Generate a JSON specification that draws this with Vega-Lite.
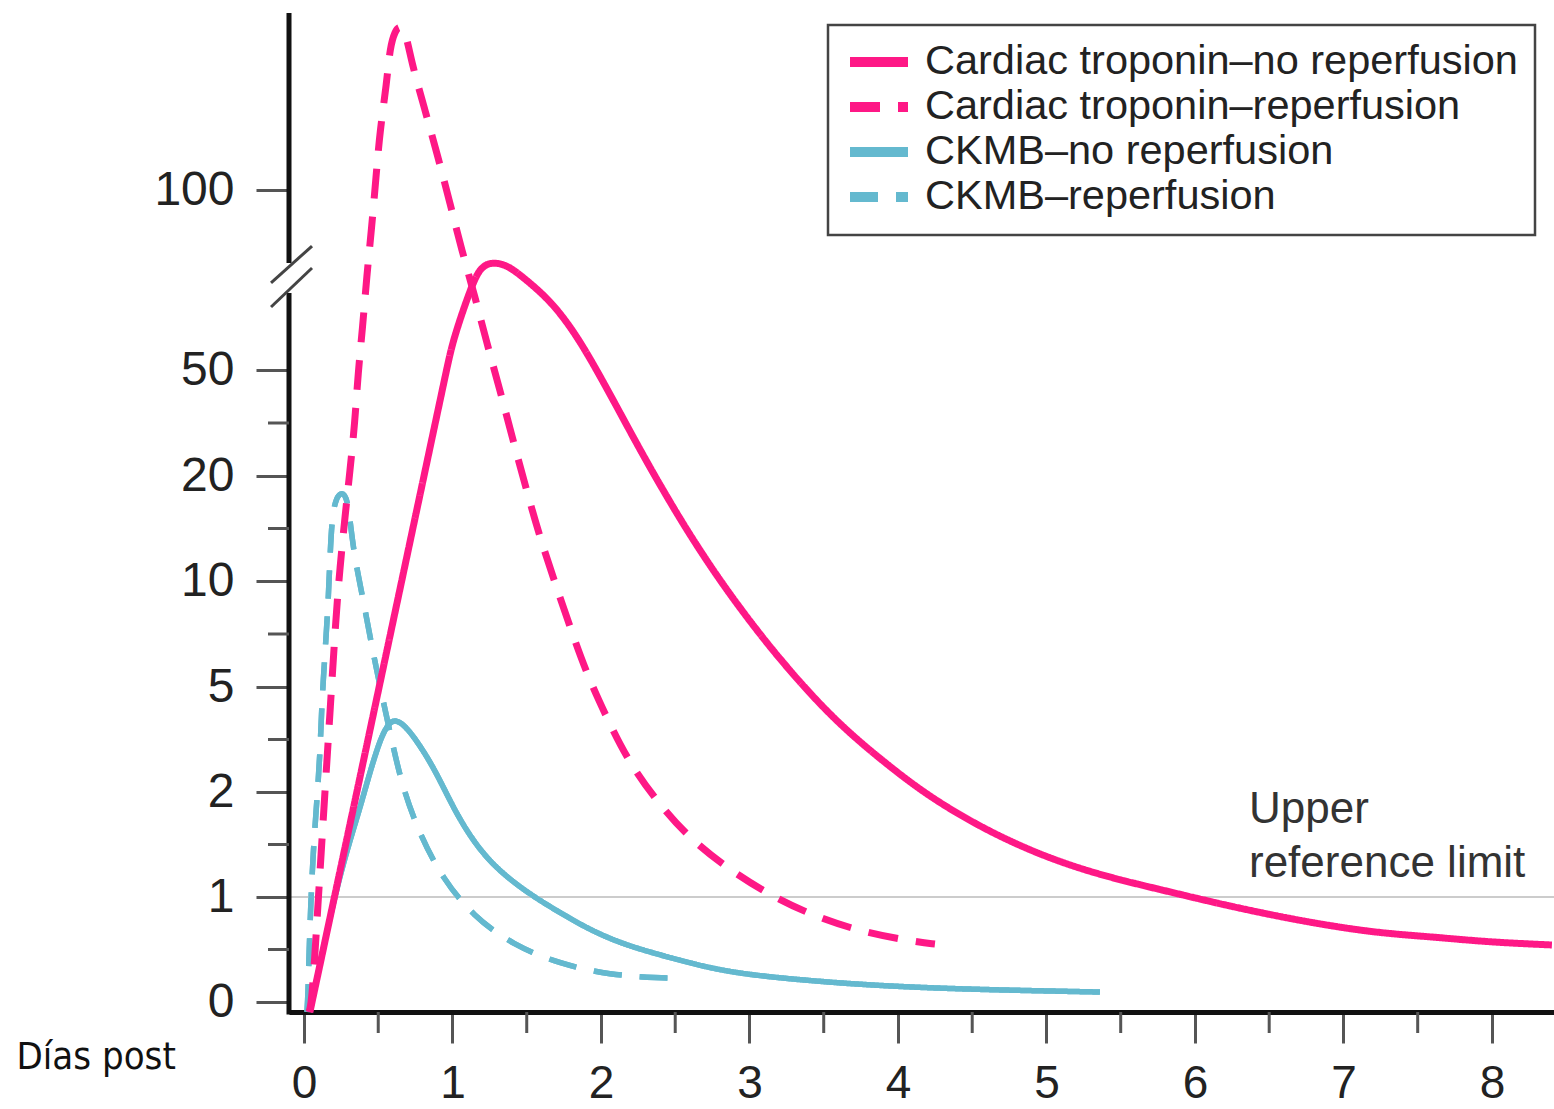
{
  "$schema": "https://vega.github.io/schema/vega-lite/v6.json",
  "width": 1265,
  "height": 999,
  "autosize": {"type": "none"},
  "padding": {"left": 289, "top": 13, "right": 0, "bottom": 97},
  "background": "white",
  "config": {"view": {"stroke": null}},
  "datasets": {
    "curves": [
      {"series": "Cardiac troponin–no reperfusion", "day": 0.04, "value": -0.095},
      {"series": "Cardiac troponin–no reperfusion", "day": 0.054, "value": 0},
      {"series": "Cardiac troponin–no reperfusion", "day": 0.205, "value": 1},
      {"series": "Cardiac troponin–no reperfusion", "day": 0.356, "value": 2},
      {"series": "Cardiac troponin–no reperfusion", "day": 0.506, "value": 5},
      {"series": "Cardiac troponin–no reperfusion", "day": 0.658, "value": 10},
      {"series": "Cardiac troponin–no reperfusion", "day": 0.808, "value": 20},
      {"series": "Cardiac troponin–no reperfusion", "day": 0.96, "value": 50},
      {"series": "Cardiac troponin–no reperfusion", "day": 1.003, "value": 58.3},
      {"series": "Cardiac troponin–no reperfusion", "day": 1.118, "value": 72.2},
      {"series": "Cardiac troponin–no reperfusion", "day": 1.185, "value": 78.6},
      {"series": "Cardiac troponin–no reperfusion", "day": 1.266, "value": 80},
      {"series": "Cardiac troponin–no reperfusion", "day": 1.367, "value": 79.2},
      {"series": "Cardiac troponin–no reperfusion", "day": 1.475, "value": 75.8},
      {"series": "Cardiac troponin–no reperfusion", "day": 1.657, "value": 69.4},
      {"series": "Cardiac troponin–no reperfusion", "day": 1.811, "value": 61.1},
      {"series": "Cardiac troponin–no reperfusion", "day": 1.946, "value": 51.9},
      {"series": "Cardiac troponin–no reperfusion", "day": 2.108, "value": 39.5},
      {"series": "Cardiac troponin–no reperfusion", "day": 2.263, "value": 27.4},
      {"series": "Cardiac troponin–no reperfusion", "day": 2.444, "value": 18.0},
      {"series": "Cardiac troponin–no reperfusion", "day": 2.62, "value": 13.9},
      {"series": "Cardiac troponin–no reperfusion", "day": 2.822, "value": 9.81},
      {"series": "Cardiac troponin–no reperfusion", "day": 3.037, "value": 7.78},
      {"series": "Cardiac troponin–no reperfusion", "day": 3.253, "value": 5.9},
      {"series": "Cardiac troponin–no reperfusion", "day": 3.582, "value": 4.0},
      {"series": "Cardiac troponin–no reperfusion", "day": 3.946, "value": 2.714},
      {"series": "Cardiac troponin–no reperfusion", "day": 4.242, "value": 1.924},
      {"series": "Cardiac troponin–no reperfusion", "day": 4.64, "value": 1.6},
      {"series": "Cardiac troponin–no reperfusion", "day": 5.044, "value": 1.352},
      {"series": "Cardiac troponin–no reperfusion", "day": 5.414, "value": 1.19},
      {"series": "Cardiac troponin–no reperfusion", "day": 5.778, "value": 1.067},
      {"series": "Cardiac troponin–no reperfusion", "day": 6.141, "value": 0.943},
      {"series": "Cardiac troponin–no reperfusion", "day": 6.512, "value": 0.829},
      {"series": "Cardiac troponin–no reperfusion", "day": 6.875, "value": 0.733},
      {"series": "Cardiac troponin–no reperfusion", "day": 7.239, "value": 0.657},
      {"series": "Cardiac troponin–no reperfusion", "day": 7.609, "value": 0.619},
      {"series": "Cardiac troponin–no reperfusion", "day": 7.973, "value": 0.571},
      {"series": "Cardiac troponin–no reperfusion", "day": 8.404, "value": 0.543},

      {"series": "Cardiac troponin–reperfusion", "day": 0.034, "value": -0.095},
      {"series": "Cardiac troponin–reperfusion", "day": 0.054, "value": 0},
      {"series": "Cardiac troponin–reperfusion", "day": 0.094, "value": 0.924},
      {"series": "Cardiac troponin–reperfusion", "day": 0.135, "value": 1.867},
      {"series": "Cardiac troponin–reperfusion", "day": 0.175, "value": 4.257},
      {"series": "Cardiac troponin–reperfusion", "day": 0.215, "value": 8.3},
      {"series": "Cardiac troponin–reperfusion", "day": 0.242, "value": 11.24},
      {"series": "Cardiac troponin–reperfusion", "day": 0.276, "value": 16.1},
      {"series": "Cardiac troponin–reperfusion", "day": 0.31, "value": 21.7},
      {"series": "Cardiac troponin–reperfusion", "day": 0.343, "value": 35.3},
      {"series": "Cardiac troponin–reperfusion", "day": 0.364, "value": 49.15},
      {"series": "Cardiac troponin–reperfusion", "day": 0.395, "value": 61.9},
      {"series": "Cardiac troponin–reperfusion", "day": 0.422, "value": 75.8},
      {"series": "Cardiac troponin–reperfusion", "day": 0.456, "value": 89.7},
      {"series": "Cardiac troponin–reperfusion", "day": 0.485, "value": 103.6},
      {"series": "Cardiac troponin–reperfusion", "day": 0.512, "value": 116.7},
      {"series": "Cardiac troponin–reperfusion", "day": 0.557, "value": 129.7},
      {"series": "Cardiac troponin–reperfusion", "day": 0.579, "value": 139.7},
      {"series": "Cardiac troponin–reperfusion", "day": 0.613, "value": 144.2},
      {"series": "Cardiac troponin–reperfusion", "day": 0.646, "value": 145.8},
      {"series": "Cardiac troponin–reperfusion", "day": 0.687, "value": 143.6},
      {"series": "Cardiac troponin–reperfusion", "day": 0.725, "value": 135.3},
      {"series": "Cardiac troponin–reperfusion", "day": 0.815, "value": 122.2},
      {"series": "Cardiac troponin–reperfusion", "day": 0.902, "value": 109.2},
      {"series": "Cardiac troponin–reperfusion", "day": 0.983, "value": 96.4},
      {"series": "Cardiac troponin–reperfusion", "day": 1.062, "value": 83.3},
      {"series": "Cardiac troponin–reperfusion", "day": 1.152, "value": 70.3},
      {"series": "Cardiac troponin–reperfusion", "day": 1.231, "value": 57.5},
      {"series": "Cardiac troponin–reperfusion", "day": 1.32, "value": 44.3},
      {"series": "Cardiac troponin–reperfusion", "day": 1.407, "value": 30.2},
      {"series": "Cardiac troponin–reperfusion", "day": 1.495, "value": 18.86},
      {"series": "Cardiac troponin–reperfusion", "day": 1.576, "value": 14.76},
      {"series": "Cardiac troponin–reperfusion", "day": 1.677, "value": 10.38},
      {"series": "Cardiac troponin–reperfusion", "day": 1.785, "value": 7.97},
      {"series": "Cardiac troponin–reperfusion", "day": 1.899, "value": 5.71},
      {"series": "Cardiac troponin–reperfusion", "day": 2.027, "value": 4.23},
      {"series": "Cardiac troponin–reperfusion", "day": 2.175, "value": 2.94},
      {"series": "Cardiac troponin–reperfusion", "day": 2.364, "value": 1.933},
      {"series": "Cardiac troponin–reperfusion", "day": 2.586, "value": 1.571},
      {"series": "Cardiac troponin–reperfusion", "day": 2.848, "value": 1.276},
      {"series": "Cardiac troponin–reperfusion", "day": 3.145, "value": 1.01},
      {"series": "Cardiac troponin–reperfusion", "day": 3.448, "value": 0.81},
      {"series": "Cardiac troponin–reperfusion", "day": 3.785, "value": 0.657},
      {"series": "Cardiac troponin–reperfusion", "day": 4.128, "value": 0.571},
      {"series": "Cardiac troponin–reperfusion", "day": 4.249, "value": 0.552},

      {"series": "CKMB–no reperfusion", "day": 0.04, "value": -0.095},
      {"series": "CKMB–no reperfusion", "day": 0.202, "value": 1},
      {"series": "CKMB–no reperfusion", "day": 0.31, "value": 1.543},
      {"series": "CKMB–no reperfusion", "day": 0.377, "value": 1.848},
      {"series": "CKMB–no reperfusion", "day": 0.444, "value": 2.571},
      {"series": "CKMB–no reperfusion", "day": 0.512, "value": 3.486},
      {"series": "CKMB–no reperfusion", "day": 0.559, "value": 3.886},
      {"series": "CKMB–no reperfusion", "day": 0.599, "value": 4.06},
      {"series": "CKMB–no reperfusion", "day": 0.653, "value": 4.0},
      {"series": "CKMB–no reperfusion", "day": 0.734, "value": 3.629},
      {"series": "CKMB–no reperfusion", "day": 0.869, "value": 2.743},
      {"series": "CKMB–no reperfusion", "day": 0.983, "value": 1.914},
      {"series": "CKMB–no reperfusion", "day": 1.098, "value": 1.619},
      {"series": "CKMB–no reperfusion", "day": 1.253, "value": 1.324},
      {"series": "CKMB–no reperfusion", "day": 1.475, "value": 1.067},
      {"series": "CKMB–no reperfusion", "day": 1.704, "value": 0.867},
      {"series": "CKMB–no reperfusion", "day": 1.926, "value": 0.686},
      {"series": "CKMB–no reperfusion", "day": 2.148, "value": 0.552},
      {"series": "CKMB–no reperfusion", "day": 2.377, "value": 0.457},
      {"series": "CKMB–no reperfusion", "day": 2.599, "value": 0.371},
      {"series": "CKMB–no reperfusion", "day": 2.889, "value": 0.276},
      {"series": "CKMB–no reperfusion", "day": 3.34, "value": 0.21},
      {"series": "CKMB–no reperfusion", "day": 3.791, "value": 0.162},
      {"series": "CKMB–no reperfusion", "day": 4.236, "value": 0.133},
      {"series": "CKMB–no reperfusion", "day": 4.687, "value": 0.114},
      {"series": "CKMB–no reperfusion", "day": 5.36, "value": 0.095},

      {"series": "CKMB–reperfusion", "day": 0.02, "value": -0.095},
      {"series": "CKMB–reperfusion", "day": 0.027, "value": 0.076},
      {"series": "CKMB–reperfusion", "day": 0.034, "value": 0.457},
      {"series": "CKMB–reperfusion", "day": 0.045, "value": 0.914},
      {"series": "CKMB–reperfusion", "day": 0.061, "value": 1.41},
      {"series": "CKMB–reperfusion", "day": 0.086, "value": 1.905},
      {"series": "CKMB–reperfusion", "day": 0.108, "value": 3.086},
      {"series": "CKMB–reperfusion", "day": 0.119, "value": 4.457},
      {"series": "CKMB–reperfusion", "day": 0.141, "value": 6.557},
      {"series": "CKMB–reperfusion", "day": 0.162, "value": 8.821},
      {"series": "CKMB–reperfusion", "day": 0.175, "value": 12.29},
      {"series": "CKMB–reperfusion", "day": 0.189, "value": 16.1},
      {"series": "CKMB–reperfusion", "day": 0.215, "value": 17.9},
      {"series": "CKMB–reperfusion", "day": 0.256, "value": 18.5},
      {"series": "CKMB–reperfusion", "day": 0.296, "value": 17.9},
      {"series": "CKMB–reperfusion", "day": 0.33, "value": 12.95},
      {"series": "CKMB–reperfusion", "day": 0.397, "value": 9.198},
      {"series": "CKMB–reperfusion", "day": 0.456, "value": 6.934},
      {"series": "CKMB–reperfusion", "day": 0.523, "value": 4.8},
      {"series": "CKMB–reperfusion", "day": 0.599, "value": 3.314},
      {"series": "CKMB–reperfusion", "day": 0.667, "value": 2.086},
      {"series": "CKMB–reperfusion", "day": 0.781, "value": 1.59},
      {"series": "CKMB–reperfusion", "day": 0.936, "value": 1.171},
      {"series": "CKMB–reperfusion", "day": 1.138, "value": 0.819},
      {"series": "CKMB–reperfusion", "day": 1.407, "value": 0.543},
      {"series": "CKMB–reperfusion", "day": 1.724, "value": 0.362},
      {"series": "CKMB–reperfusion", "day": 2.061, "value": 0.257},
      {"series": "CKMB–reperfusion", "day": 2.397, "value": 0.229},
      {"series": "CKMB–reperfusion", "day": 2.512, "value": 0.229}
    ],
    "yminor": [{"v": 0.5}, {"v": 1.5}, {"v": 3.5}, {"v": 7.5}, {"v": 15}, {"v": 35}],
    "xminor": [{"d": 0.5}, {"d": 1.5}, {"d": 2.5}, {"d": 3.5}, {"d": 4.5}, {"d": 5.5}, {"d": 6.5}, {"d": 7.5}]
  },
  "layer": [
    {
      "data": {"name": "curves"},
      "transform": [{"filter": {"field": "series", "oneOf": ["CKMB–no reperfusion", "CKMB–reperfusion"]}}],
      "mark": {"type": "line", "interpolate": "basis", "strokeWidth": 5.5},
      "encoding": {
        "x": {
          "field": "day", "type": "quantitative",
          "scale": {"domain": [-0.101, 8.418], "nice": false, "zero": false},
          "axis": {
            "values": [0, 1, 2, 3, 4, 5, 6, 7, 8],
            "format": "d",
            "grid": false,
            "domain": true, "domainColor": "#111111", "domainWidth": 5,
            "tickSize": 31, "tickWidth": 3, "tickColor": "#555555",
            "labelFont": "Liberation Sans", "labelFontSize": 46, "labelColor": "#222222",
            "labelPadding": 54, "labelBaseline": "alphabetic", "labelFlush": false, "labelOverlap": false,
            "title": "Días post",
            "titleFont": "DejaVu Sans Condensed, Roboto, sans-serif", "titleFontSize": 38, "titleFontWeight": "normal", "titleColor": "#111111",
            "titleX": -273, "titleY": 56, "titleAlign": "left", "titleBaseline": "alphabetic", "titleAngle": 0
          }
        },
        "y": {
          "field": "value", "type": "quantitative",
          "scale": {
            "type": "linear",
            "domain": [-0.0952, 0, 1, 2, 5, 10, 20, 50, 100, 149.2],
            "range": [999, 989, 884, 779, 674, 568, 463, 357, 177, 0],
            "nice": false, "zero": false
          },
          "axis": {
            "values": [0, 1, 2, 5, 10, 20, 50, 100],
            "format": "d",
            "grid": false, "domain": false,
            "tickSize": 33, "tickWidth": 3, "tickColor": "#555555",
            "labelFont": "Liberation Sans", "labelFontSize": 48, "labelColor": "#222222",
            "labelPadding": 22, "labelFlush": false, "labelOverlap": false,
            "title": null
          }
        },
        "color": {
          "field": "series", "type": "nominal",
          "scale": {
            "domain": ["Cardiac troponin–no reperfusion", "Cardiac troponin–reperfusion", "CKMB–no reperfusion", "CKMB–reperfusion"],
            "range": ["#fe1886", "#fe1886", "#64b9cf", "#64b9cf"]
          },
          "legend": {
            "orient": "none", "legendX": 539, "legendY": 12, "title": null, "direction": "vertical",
            "symbolType": "stroke", "symbolSize": 3364, "symbolStrokeWidth": 10, "clipHeight": 40,
            "rowPadding": 3, "padding": 17,
            "labelFont": "Liberation Sans", "labelFontSize": 41.5, "labelColor": "#222222", "labelLimit": 1200, "labelOffset": 12,
            "strokeColor": "#444444", "fillColor": "#ffffff",
            "encode": {"legend": {"update": {"strokeWidth": {"value": 2.5}}}}
          }
        },
        "strokeDash": {
          "field": "series", "type": "nominal",
          "scale": {
            "domain": ["Cardiac troponin–no reperfusion", "Cardiac troponin–reperfusion", "CKMB–no reperfusion", "CKMB–reperfusion"],
            "range": [[1, 0], [30, 18], [1, 0], [28, 18]]
          },
          "legend": {
            "orient": "none", "legendX": 539, "legendY": 12, "title": null, "direction": "vertical",
            "symbolType": "stroke", "symbolSize": 3364, "symbolStrokeWidth": 10, "clipHeight": 40,
            "rowPadding": 3, "padding": 17,
            "labelFont": "Liberation Sans", "labelFontSize": 41.5, "labelColor": "#222222", "labelLimit": 1200, "labelOffset": 12,
            "strokeColor": "#444444", "fillColor": "#ffffff",
            "encode": {"legend": {"update": {"strokeWidth": {"value": 2.5}}}}
          }
        }
      }
    },
    {
      "data": {"values": [{}]},
      "mark": {"type": "rule", "color": "#cccccc", "strokeWidth": 2},
      "encoding": {"y": {"datum": 1, "type": "quantitative", "title": null}}
    },
    {
      "data": {"name": "curves"},
      "transform": [{"filter": {"field": "series", "oneOf": ["CKMB–no reperfusion", "CKMB–reperfusion"]}}],
      "mark": {"type": "line", "interpolate": "basis", "strokeWidth": 5.5},
      "encoding": {
        "x": {"field": "day", "type": "quantitative", "title": "Días post"},
        "y": {"field": "value", "type": "quantitative", "title": null},
        "color": {"field": "series", "type": "nominal"},
        "strokeDash": {"field": "series", "type": "nominal"}
      }
    },
    {
      "data": {"name": "curves"},
      "transform": [{"filter": {"field": "series", "oneOf": ["Cardiac troponin–no reperfusion", "Cardiac troponin–reperfusion"]}}],
      "mark": {"type": "line", "interpolate": "basis", "strokeWidth": 7},
      "encoding": {
        "x": {"field": "day", "type": "quantitative", "title": "Días post"},
        "y": {"field": "value", "type": "quantitative", "title": null},
        "color": {"field": "series", "type": "nominal"},
        "strokeDash": {"field": "series", "type": "nominal"}
      }
    },
    {
      "data": {"values": [{}]},
      "mark": {"type": "rule", "color": "#111111", "strokeWidth": 5},
      "encoding": {
        "x": {"datum": -0.101, "type": "quantitative", "title": "Días post"},
        "y": {"datum": -0.119, "type": "quantitative", "title": null},
        "y2": {"datum": 71.4}
      }
    },
    {
      "data": {"values": [{}]},
      "mark": {"type": "rule", "color": "#111111", "strokeWidth": 5},
      "encoding": {
        "x": {"datum": -0.101, "type": "quantitative", "title": "Días post"},
        "y": {"datum": 79.7, "type": "quantitative", "title": null},
        "y2": {"datum": 149.2}
      }
    },
    {
      "data": {"values": [{}]},
      "mark": {"type": "rule", "color": "#444444", "strokeWidth": 3},
      "encoding": {
        "x": {"datum": -0.222, "type": "quantitative", "title": "Días post"},
        "x2": {"datum": 0.054},
        "y": {"datum": 74.17, "type": "quantitative", "title": null},
        "y2": {"datum": 84.44}
      }
    },
    {
      "data": {"values": [{}]},
      "mark": {"type": "rule", "color": "#444444", "strokeWidth": 3},
      "encoding": {
        "x": {"datum": -0.222, "type": "quantitative", "title": "Días post"},
        "x2": {"datum": 0.054},
        "y": {"datum": 67.5, "type": "quantitative", "title": null},
        "y2": {"datum": 78.33}
      }
    },
    {
      "data": {"name": "yminor"},
      "mark": {"type": "rule", "color": "#555555", "strokeWidth": 3},
      "encoding": {
        "y": {"field": "v", "type": "quantitative", "title": null},
        "x": {"datum": -0.2424, "type": "quantitative", "title": "Días post"},
        "x2": {"datum": -0.101}
      }
    },
    {
      "data": {"name": "xminor"},
      "mark": {"type": "rule", "color": "#555555", "strokeWidth": 3},
      "encoding": {
        "x": {"field": "d", "type": "quantitative", "title": "Días post"},
        "y": {"datum": -0.0952, "type": "quantitative", "title": null},
        "y2": {"datum": -0.2952}
      }
    },
    {
      "data": {"values": [{}]},
      "mark": {
        "type": "text", "text": ["Upper", "reference limit"],
        "align": "left", "baseline": "alphabetic",
        "font": "Liberation Sans", "fontSize": 44, "lineHeight": 54, "color": "#333333"
      },
      "encoding": {
        "x": {"datum": 6.364, "type": "quantitative", "title": "Días post"},
        "y": {"datum": 1.705, "type": "quantitative", "title": null}
      }
    }
  ]
}
